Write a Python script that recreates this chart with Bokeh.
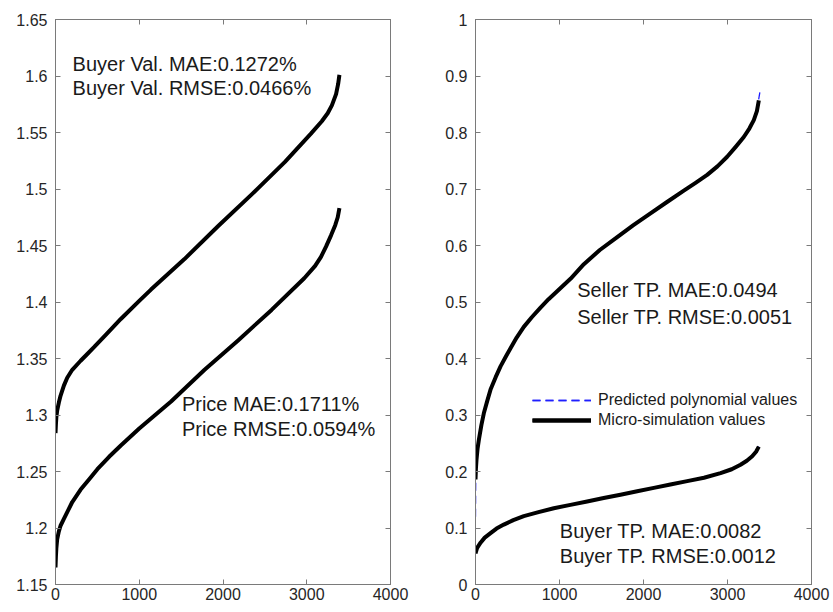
from bokeh.plotting import figure
from bokeh.layouts import row
from bokeh.models import (Range1d, FixedTicker, LinearAxis, CustomJSTickFormatter,
                          Label, Legend, LegendItem)
from bokeh.embed import file_html
from bokeh.resources import INLINE

# ---------------- data ----------------
x_ticks = [0, 1000, 2000, 3000, 4000]
left_y_ticks = [1.15, 1.2, 1.25, 1.3, 1.35, 1.4, 1.45, 1.5, 1.55, 1.6, 1.65]
right_y_ticks = [0, 0.1, 0.2, 0.3, 0.4, 0.5, 0.6, 0.7, 0.8, 0.9, 1.0]

buyer_val_x = [0, 5, 10, 20, 40, 60, 100, 140, 200, 300, 380, 460, 600, 780, 1000, 1140, 1540, 1940,
               2340, 2740, 3050, 3180, 3250, 3300, 3350, 3375, 3390]
buyer_val_y = [1.284, 1.292, 1.298, 1.304, 1.311, 1.317, 1.326, 1.333, 1.340, 1.348, 1.354, 1.360, 1.371,
               1.385, 1.401, 1.411, 1.438, 1.467, 1.495, 1.524, 1.549, 1.560, 1.567, 1.574, 1.584, 1.593,
               1.601]

price_x = [0, 5, 10, 20, 40, 60, 100, 140, 200, 300, 400, 500, 640, 780, 1000, 1380, 1780, 2180, 2580,
           2970, 3100, 3170, 3230, 3290, 3340, 3370, 3390]
price_y = [1.165, 1.175, 1.182, 1.190, 1.197, 1.202, 1.208, 1.214, 1.223, 1.234, 1.243, 1.252, 1.263,
           1.273, 1.288, 1.312, 1.340, 1.366, 1.393, 1.421, 1.432, 1.440, 1.449, 1.459, 1.468, 1.475, 1.483]

seller_tp_x = [0, 5, 12, 25, 40, 70, 99, 140, 179, 240, 298, 360, 417, 490, 575, 670, 774, 870, 972,
               1131, 1290, 1480, 1687, 1880, 2083, 2280, 2480, 2620, 2758, 2880, 2996, 3100, 3194,
               3260, 3313, 3350, 3373]
seller_tp_y = [0.186, 0.205, 0.221, 0.241, 0.256, 0.282, 0.303, 0.325, 0.345, 0.367, 0.386, 0.403, 0.418,
               0.437, 0.456, 0.473, 0.490, 0.505, 0.519, 0.541, 0.567, 0.592, 0.615, 0.636, 0.657,
               0.677, 0.697, 0.711, 0.725, 0.740, 0.757, 0.775, 0.792, 0.807, 0.822, 0.838, 0.857]
seller_tp_pred_x = [0, 3, 12, 25, 40, 70, 99, 140, 179, 240, 298, 360, 417, 490, 575, 670, 774, 870, 972,
                    1131, 1290, 1480, 1687, 1880, 2083, 2280, 2480, 2620, 2758, 2880, 2996, 3100, 3194,
                    3260, 3313, 3350, 3385]
seller_tp_pred_y = [0.120, 0.195, 0.222, 0.242, 0.257, 0.283, 0.304, 0.326, 0.346, 0.368, 0.387, 0.404,
                    0.419, 0.438, 0.457, 0.474, 0.491, 0.506, 0.520, 0.542, 0.568, 0.592, 0.615, 0.636,
                    0.656, 0.676, 0.697, 0.711, 0.725, 0.741, 0.758, 0.776, 0.793, 0.808, 0.823, 0.840,
                    0.871]

buyer_tp_x = [0, 20, 60, 110, 179, 250, 337, 450, 575, 750, 932, 1130, 1329, 1526, 1726, 1925, 2123,
              2320, 2520, 2720, 2917, 3050, 3155, 3230, 3294, 3340, 3373]
buyer_tp_y = [0.055, 0.065, 0.074, 0.083, 0.091, 0.099, 0.106, 0.114, 0.121, 0.128, 0.135, 0.141, 0.147,
              0.153, 0.159, 0.165, 0.171, 0.177, 0.183, 0.189, 0.197, 0.204, 0.212, 0.219, 0.227, 0.235,
              0.244]

FONT = "Liberation Sans"
AX_COL = "#7a7a7a"
TXT_COL = "#262626"
BLUE = "#1f1fff"


def make_fig(width, y_range, y_ticks, border_left, border_right):
    p = figure(width=width, height=604, x_range=Range1d(0, 4000), y_range=Range1d(*y_range),
               output_backend="svg", toolbar_location=None,
               min_border_left=border_left, min_border_right=border_right,
               min_border_top=19, min_border_bottom=20)
    p.grid.visible = False
    p.outline_line_color = AX_COL
    p.background_fill_color = "white"
    p.border_fill_color = "white"
    fmt = CustomJSTickFormatter(code="return Number(tick.toFixed(4)).toString();")
    for ax, ticks in ((p.xaxis[0], x_ticks), (p.yaxis[0], y_ticks)):
        ax.ticker = FixedTicker(ticks=ticks)
        ax.formatter = fmt
        ax.major_tick_in = 5
        ax.major_tick_out = 0
        ax.minor_tick_line_color = None
        ax.axis_line_color = AX_COL
        ax.major_tick_line_color = AX_COL
        ax.major_label_text_font = FONT
        ax.major_label_text_font_size = "16px"
        ax.major_label_text_color = TXT_COL
    p.xaxis[0].major_label_standoff = 3
    p.yaxis[0].major_label_standoff = 8
    blank = CustomJSTickFormatter(code="return '';")
    for side, ticks in (("right", y_ticks), ("above", x_ticks)):
        ax = LinearAxis(ticker=FixedTicker(ticks=ticks), formatter=blank,
                        major_tick_in=5, major_tick_out=0,
                        minor_tick_line_color=None, axis_line_color=AX_COL,
                        major_tick_line_color=AX_COL, major_label_standoff=0,
                        major_label_text_font_size="1px")
        p.add_layout(ax, side)
    return p


def add_text(p, x, y, s):
    p.add_layout(Label(x=x, y=y, text=s, text_font=FONT, text_font_size="20px",
                       text_color="#1a1a1a", text_baseline="middle", text_align="left"))


# ---------------- left panel ----------------
p1 = make_fig(420, (1.15, 1.65), left_y_ticks, 55, 30)
p1.line(buyer_val_x, buyer_val_y, line_color=BLUE, line_width=1.3, line_dash="8 5")
p1.line(price_x, price_y, line_color=BLUE, line_width=1.3, line_dash="8 5")
p1.line(buyer_val_x, buyer_val_y, line_color="black", line_width=4, line_join="round")
p1.line(price_x, price_y, line_color="black", line_width=4, line_join="round")
add_text(p1, 204, 1.611, "Buyer Val. MAE:0.1272%")
add_text(p1, 204, 1.589, "Buyer Val. RMSE:0.0466%")
add_text(p1, 1509, 1.310, "Price MAE:0.1711%")
add_text(p1, 1509, 1.288, "Price RMSE:0.0594%")

# ---------------- right panel ----------------
p2 = make_fig(413, (0, 1), right_y_ticks, 55, 22)
r_pred1 = p2.line(seller_tp_pred_x, seller_tp_pred_y, line_color=BLUE, line_width=1.3, line_dash="8 5")
r_pred2 = p2.line(buyer_tp_x, buyer_tp_y, line_color=BLUE, line_width=1.3, line_dash="8 5")
r_sim1 = p2.line(seller_tp_x, seller_tp_y, line_color="black", line_width=4, line_join="round")
r_sim2 = p2.line(buyer_tp_x, buyer_tp_y, line_color="black", line_width=4, line_join="round")
add_text(p2, 1211, 0.521, "Seller TP. MAE:0.0494")
add_text(p2, 1211, 0.474, "Seller TP. RMSE:0.0051")
add_text(p2, 1004, 0.094, "Buyer TP. MAE:0.0082")
add_text(p2, 1004, 0.050, "Buyer TP. RMSE:0.0012")

legend = Legend(items=[LegendItem(label="Predicted polynomial values", renderers=[r_pred1, r_pred2]),
                       LegendItem(label="Micro-simulation values", renderers=[r_sim1, r_sim2])],
                location=(57, 154), padding=0, margin=0, spacing=0,
                glyph_width=59, glyph_height=20, label_standoff=7,
                label_text_font=FONT, label_text_font_size="16px", label_text_color="#1a1a1a",
                border_line_color=None, background_fill_alpha=0)
p2.add_layout(legend, "center")

layout = row(p1, p2)
open("out.html", "w").write(file_html(layout, INLINE))
